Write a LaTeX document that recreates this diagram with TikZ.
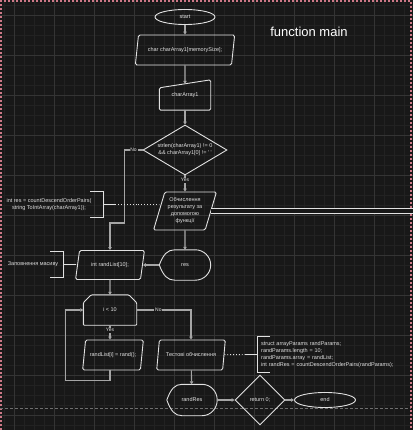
\documentclass[tikz,border=0pt]{standalone}
\usepackage{fontspec}
\setmainfont{Liberation Sans}
\usetikzlibrary{shapes.geometric,arrows.meta,calc}
\definecolor{canvasdark}{RGB}{24,24,24}
\definecolor{gridminor}{RGB}{34,34,34}
\definecolor{gridmajor}{RGB}{52,52,52}
\definecolor{shapeline}{RGB}{225,225,225}
\definecolor{edgegrey}{RGB}{165,165,165}
\definecolor{pagered}{RGB}{205,120,135}
\definecolor{pagegrey}{RGB}{110,110,110}

% outline of the drawio "display" shape around a named node
\newcommand{\displayoutline}[1]{%
  \draw[outline] (#1.west)
    .. controls ([xshift=4pt]$(#1.west)!0.7!(#1.north west)$) and ($(#1.north west)!0.16!(#1.north east)$) .. ($(#1.north west)!0.3!(#1.north east)$)
    -- ($(#1.north west)!0.7!(#1.north east)$)
    .. controls ($(#1.north west)!0.866!(#1.north east)$) and ($(#1.north east)!0.224!(#1.south east)$) .. (#1.east)
    .. controls ($(#1.north east)!0.776!(#1.south east)$) and ($(#1.south west)!0.866!(#1.south east)$) .. ($(#1.south west)!0.7!(#1.south east)$)
    -- ($(#1.south west)!0.3!(#1.south east)$)
    .. controls ($(#1.south west)!0.16!(#1.south east)$) and ([xshift=4pt]$(#1.west)!0.7!(#1.south west)$) .. (#1.west) -- cycle;}

\begin{document}
\begin{tikzpicture}[
    x=1pt, y=-1pt,
    every node/.style={text=shapeline, font=\fontsize{5.5}{7}\selectfont, inner sep=1pt, align=center},
    outline/.style={draw=shapeline, line width=0.9pt},
    terminal/.style={ellipse, outline, minimum width=60pt, minimum height=15pt},
    iobox/.style={trapezium, trapezium left angle=70, trapezium right angle=110, trapezium stretches=true, outline, rounded corners=1.5pt, minimum height=30pt},
    decision/.style={diamond, outline, inner sep=0pt},
    plainbox/.style={rectangle, minimum width=51pt, minimum height=30pt},
    notebox/.style={rectangle, minimum height=25pt},
    flow/.style={-{Triangle[length=3pt,width=3.5pt]}, edgegrey, line width=1.1pt},
    dotlink/.style={shapeline, line width=0.9pt, dotted},
    edgelabel/.style={fill=canvasdark, inner sep=0.8pt, font=\fontsize{5}{6}\selectfont}
]
\useasboundingbox (0,0) rectangle (413,430);
\fill[canvasdark] (0,0) rectangle (413,430);
\foreach \gx in {4,14,...,414} \draw[gridminor, line width=0.5pt] (\gx,0) -- (\gx,430);
\foreach \gy in {5,15,...,425} \draw[gridminor, line width=0.5pt] (0,\gy) -- (413,\gy);
\foreach \gx in {14,54,...,414} \draw[gridmajor, line width=0.6pt] (\gx,0) -- (\gx,430);
\foreach \gy in {15,55,...,415} \draw[gridmajor, line width=0.6pt] (0,\gy) -- (413,\gy);
\draw[pagered, line width=1.2pt, dash pattern=on 2pt off 2pt] (1,430) -- (1,1) -- (411,1) -- (411,430);
\draw[pagegrey, line width=0.6pt, dash pattern=on 3pt off 2pt] (0,408) -- (411,408);

\node[font=\fontsize{13}{15}\selectfont, text=white] (title) at (309,32) {function main};

% main column
\node[terminal] (start) at (185,17) {start};
\node[iobox, minimum width=100pt] (chardecl) at (185,50) {char charArray1[memorySize];};
\node[plainbox] (charin) at (185,95) {charArray1};
\node[decision, minimum width=84pt, minimum height=50pt,
      label={center:{strlen(charArray1) != 0\\\&\& charArray1[0] != \textquotesingle\ \textquotesingle}}] (check) at (185,150) {};
\node[iobox, minimum width=63pt, minimum height=38pt] (calcres) at (185,211) {Обчислення\\результату за\\допомогою\\функції};
\node[plainbox] (res) at (185,265) {res};
\node[iobox, minimum width=69pt, minimum height=29pt] (randlist) at (110,265) {int randList[10];};
\node[plainbox, minimum width=53pt] (loop) at (110,310) {i < 10};
\node[iobox, minimum width=61pt] (randfill) at (113,355) {randList[i] = rand();};
\node[iobox, minimum width=69pt] (tests) at (191,355) {Тестові обчислення};
\node[plainbox, minimum width=50pt, minimum height=31pt] (randres) at (192,400) {randRes};
\node[decision, minimum width=50pt, minimum height=50pt] (ret) at (260,400) {return 0;};
\node[terminal, minimum width=61pt] (finish) at (325,400) {end};
\coordinate (offright) at (413,211);

% annotations
\node[notebox, minimum width=108pt] (resnote) at (49,204.5) {int res = countDescendOrderPairs(\\string ToIntArray(charArray1));};
\node[notebox, minimum width=60pt] (fillnote) at (33,264.5) {Заповнення масиву};
\node[notebox, minimum height=35pt, text width=144pt, inner xsep=4pt, align=left, anchor=west] (testnote) at (257,354.5)
    {struct arrayParams randParams;\\randParams.length = 10;\\randParams.array = randList;\\int randRes = countDescendOrderPairs(randParams);};

% shape outlines
\draw[outline, rounded corners=1.5pt] (charin.south west) -- (charin.south east) -- (charin.north east) -- ([yshift=-8pt]charin.north west) -- cycle;
\draw[outline, rounded corners=1pt] (loop.south west) -- ([yshift=-8pt]loop.north west) -- ([xshift=8pt]loop.north west)
    -- ([xshift=-8pt]loop.north east) -- ([yshift=-8pt]loop.north east) -- (loop.south east) -- cycle;
\displayoutline{res}
\displayoutline{randres}
\draw[outline] ([xshift=-13pt]resnote.north east) -- (resnote.north east) -- (resnote.south east) -- ([xshift=-13pt]resnote.south east);
\draw[outline] (resnote.east) -- ++(12,0) coordinate (restip);
\draw[outline] ([xshift=-13pt]fillnote.north east) -- (fillnote.north east) -- (fillnote.south east) -- ([xshift=-13pt]fillnote.south east);
\draw[outline] (fillnote.east) -- ++(12,0) coordinate (filltip);
\draw[outline] ([xshift=13pt]testnote.north west) -- (testnote.north west) -- (testnote.south west) -- ([xshift=13pt]testnote.south west);
\draw[outline] (testnote.west) -- ++(-12,0) coordinate (testtip);

% connectors
\draw[flow] (start) -- (chardecl);
\draw[flow] (chardecl) -- ([yshift=-4pt]charin.north);
\draw[flow] (charin) -- (check);
\draw[flow] (check) -- node[edgelabel, pos=0.3] {Yes} (calcres);
\draw[flow] (check.west) -- node[edgelabel] {No} ++(-18,0) |- ([yshift=27pt]randlist.north) -- (randlist.north);
\draw[dotlink] (restip) -- (calcres.west |- restip);
\draw[shapeline, line width=1pt, double=canvasdark, double distance=4pt] (calcres) -- (offright);
\draw[flow] (calcres) -- (res);
\draw[flow] (res) -- (randlist);
\draw[dotlink] (filltip) -- (randlist);
\draw[flow] (randlist) -- (loop);
\draw[flow] (loop.south) -- node[edgelabel, pos=0.35] {Yes} (loop.south |- randfill.north);
\draw[flow] (loop.south |- randfill.south) -- ++(0,10) -| ([xshift=-18pt]loop.west) -- (loop.west);
\draw[flow] (loop.east) -| node[edgelabel, pos=0.2] {No} (tests.north);
\draw[dotlink] (tests) -- (testtip);
\draw[flow] (tests) -- (randres);
\draw[flow] (randres) -- (ret);
\draw[flow] (ret) -- (finish);
\end{tikzpicture}
\end{document}
